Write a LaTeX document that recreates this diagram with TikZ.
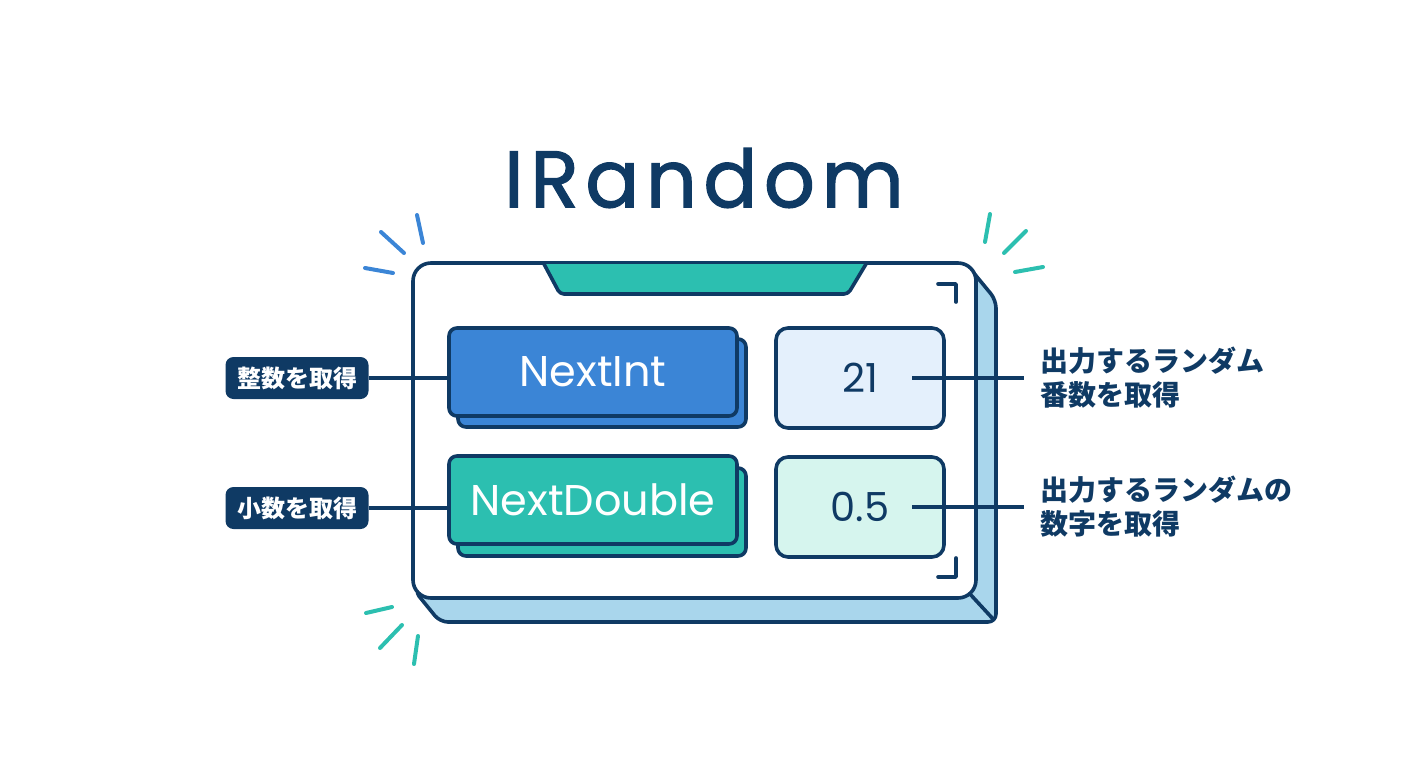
\documentclass[tikz,border=0pt]{standalone}
\usepackage{fontspec}
\setmainfont{Poppins}
\newfontfamily\jpfont{Noto Sans CJK JP}
\newfontfamily\titlefont{Poppins}[LetterSpace=8, FakeBold=1.5]
\definecolor{navy}{HTML}{0F3A64}
\definecolor{btnblue}{HTML}{3B85D6}
\definecolor{btnteal}{HTML}{2CBFB0}
\definecolor{sideblue}{HTML}{A9D6EC}
\definecolor{valblue}{HTML}{E4F0FC}
\definecolor{valteal}{HTML}{D6F5EE}
\tikzset{
  outline/.style={draw=navy, line width=3.6pt, line join=round},
  btn/.style={outline, rounded corners=8pt, minimum width=288pt, minimum height=88pt, text=white, font=\fontsize{43}{43}\selectfont},
  valbox/.style={outline, rounded corners=12pt, minimum width=168pt, minimum height=100pt, text=navy, font=\fontsize{40}{40}\selectfont},
  tag/.style={fill=navy, rounded corners=8pt, minimum width=143pt, minimum height=42pt, text=white, font=\jpfont\bfseries\fontsize{24}{24}\selectfont},
  desc/.style={anchor=west, align=left, inner sep=0pt, outer sep=16pt, text=navy, font=\jpfont\bfseries\fontsize{28}{34}\selectfont},
  conn/.style={draw=navy, line width=3.6pt},
  spark/.style={line width=4pt, line cap=round},
}
\begin{document}
\begin{tikzpicture}[x=1pt,y=-1pt]
    \useasboundingbox (0,0) rectangle (1408,768);
    % title
    \node[text=navy, font=\titlefont\fontsize{80}{80}\selectfont] (title) at (704,178) {IRandom};
    % panel, side faces first
    \draw[outline, fill=sideblue, rounded corners=8pt] (968,266) -- (996,300) -- (996,622) -- (440,622) -- (414,590) -- cycle;
    \draw[outline] (970,594) -- (994,620);
    \draw[outline, fill=white, rounded corners=18pt] (413,263) rectangle (976,598);
    \draw[outline, fill=btnteal, rounded corners=4pt] (544,264) -- (560,294) -- (848,294) -- (866,264);
    \draw[outline, line cap=round] (938,284) -- (956,284) -- (956,302);
    \draw[outline, line cap=round] (956,558) -- (956,577) -- (938,577);
    % sparks
    \foreach \xa/\ya/\xb/\yb/\col in {417/215/423/243/btnblue, 381/232/404/253/btnblue, 365/268/393/273/btnblue,
        990/214/985/242/btnteal, 1026/231/1004/253/btnteal, 1043/267/1015/272/btnteal,
        392/607/366/613/btnteal, 402/625/380/648/btnteal, 418/636/414/664/btnteal} {
        \draw[spark, \col] (\xa,\ya) -- (\xb,\yb);
    }
    % method buttons
    \node[btn, fill=btnblue] (nintsh) at (602,383) {};
    \node[btn, fill=btnblue] (nint) at (593,372) {NextInt};
    \node[btn, fill=btnteal] (ndblsh) at (602,512) {};
    \node[btn, fill=btnteal] (ndbl) at (593,500) {NextDouble};
    % values
    \node[valbox, fill=valblue] (vint) at (860,378) {21};
    \node[valbox, fill=valteal] (vdbl) at (860,507) {0.5};
    % labels left
    \node[tag] (tint) at (297,378) {整数を取得};
    \node[tag] (tdbl) at (297,508) {小数を取得};
    \draw[conn] (tint.east) -- (tint.east -| nint.west);
    \draw[conn] (tdbl.east) -- (tdbl.east -| ndbl.west);
    % labels right
    \node[desc] (dint) at (1024,378) {出力するランダム\\番数を取得};
    \node[desc] (ddbl) at (1024,507) {出力するランダムの\\数字を取得};
    \coordinate (oint) at (912,378);
    \coordinate (odbl) at (912,507);
    \draw[conn] (oint) -- (dint.west);
    \draw[conn] (odbl) -- (ddbl.west);
\end{tikzpicture}
\end{document}
